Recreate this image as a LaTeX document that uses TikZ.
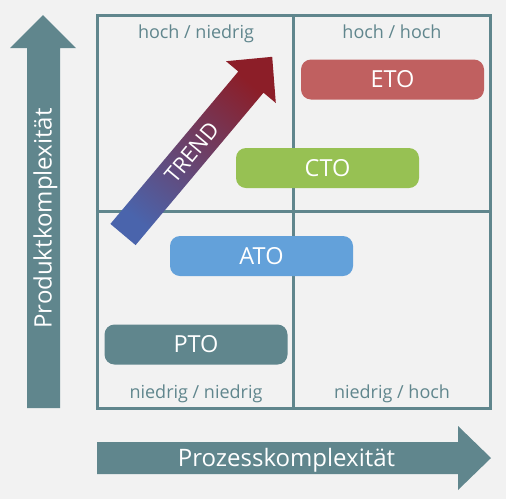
\documentclass[tikz,border=0pt]{standalone}
\usepackage{fontspec}
\setmainfont{Open Sans}
\definecolor{bg}{RGB}{242,242,242}
\definecolor{teal}{RGB}{96,134,141}
\definecolor{etocol}{RGB}{192,96,96}
\definecolor{ctocol}{RGB}{151,193,83}
\definecolor{atocol}{RGB}{99,161,218}
\definecolor{trendblue}{RGB}{74,100,172}
\definecolor{trendpurple}{RGB}{108,66,130}
\definecolor{trendred}{RGB}{140,30,40}
\begin{document}
\begin{tikzpicture}[x=1pt,y=-1pt,
  gridline/.style={draw=teal,line width=3pt},
  box/.style={rounded corners=10pt,minimum width=183pt,minimum height=40pt,inner sep=0pt,
              text=white,font=\fontsize{23.5}{25}\selectfont},
  quadlabel/.style={text=teal,anchor=base,inner sep=0pt,font=\fontsize{18}{20}\selectfont},
  axislabel/.style={text=white,anchor=base,inner sep=0pt,font=\fontsize{24}{26}\selectfont},
  blockarrow/.style={fill=teal}]
\fill[bg] (0,0) rectangle (506,499);
\useasboundingbox (0,0) rectangle (506,499);
% grid
\draw[gridline] (97,15) rectangle (490,408);
\draw[gridline] (293,15) -- (293,408);
\draw[gridline] (97,211) -- (490,211);
% quadrant labels
\node[quadlabel] (hn) at (196,38.3) {hoch / niedrig};
\node[quadlabel] (hh) at (392,38.3) {hoch / hoch};
\node[quadlabel] (nn) at (196,398.3) {niedrig / niedrig};
\node[quadlabel] (nh) at (392,398.3) {niedrig / hoch};
% axis arrows
\fill[blockarrow] (27,408) -- (27,48) -- (10,48) -- (43,15) -- (76,48) -- (60,48) -- (60,408) -- cycle;
\node[axislabel,rotate=90] (yl) at (51.7,218.5) {Produktkomplexität};
\fill[blockarrow] (97,442) -- (458,442) -- (458,426) -- (491,458) -- (458,490) -- (458,474) -- (97,474) -- cycle;
\node[axislabel] (xl) at (286.5,466) {Prozesskomplexität};
% trend arrow
\shade[bottom color=trendblue,middle color=trendpurple,top color=trendred,shading angle=-40]
  (110.4,223.9) -- (238.3,71.5) -- (226,61.2) -- (272.2,56.8) -- (275.8,103) -- (263.5,92.7) -- (135.6,245.1) -- cycle;
\node[text=white,rotate=50,inner sep=0pt,font=\fontsize{22}{24}\selectfont] (trend) at (192,152.5) {TREND};
% boxes
\node[box,fill=etocol] (eto) at (392.5,79.5) {ETO};
\node[box,fill=ctocol] (cto) at (327.5,168) {CTO};
\node[box,fill=atocol] (ato) at (261.5,256) {ATO};
\node[box,fill=teal] (pto) at (196,344.5) {PTO};
\end{tikzpicture}
\end{document}
